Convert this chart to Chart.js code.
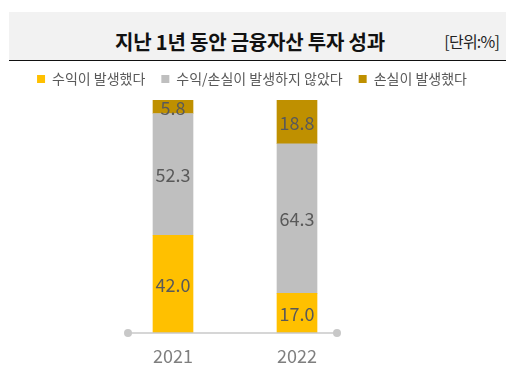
<!DOCTYPE html>
<html>
<head>
<meta charset="utf-8">
<script src="https://cdn.jsdelivr.net/npm/chart.js@4"></script>
<style>
  body { margin: 0; background: #fff; }
  #wrap { position: relative; width: 520px; height: 368px; }
  #band {
    position: absolute; left: 9px; top: 12px; width: 497px; height: 48px;
    background: #f2f2f2; border-bottom: 1.5px solid #111;
  }
  #title {
    position: absolute; left: 0; width: 482px; top: 15px; text-align: center;
    font: bold 20px "Noto Sans CJK KR", sans-serif; color: #111; letter-spacing: -0.2px;
  }
  #unit {
    position: absolute; right: 7px; top: 17px;
    font: 16px "Noto Sans CJK KR", sans-serif; color: #222; letter-spacing: -0.8px;
  }
  canvas { position: absolute; left: 0; top: 0; }
</style>
</head>
<body>
<div id="wrap">
  <div id="band">
    <div id="title">지난 1년 동안 금융자산 투자 성과</div>
    <div id="unit">[단위:%]</div>
  </div>
  <canvas id="chart" width="520" height="368"></canvas>
</div>
<script>
// Data
const years = ["2021", "2022"];
const seriesNames = ["수익이 발생했다", "수익/손실이 발생하지 않았다", "손실이 발생했다"];
const profitValues = [42.0, 17.0];
const neutralValues = [52.3, 64.3];
const lossValues = [5.8, 18.8];
const seriesColors = ["#FFC000", "#BFBFBF", "#BF9000"];

const FONT = '"Noto Sans CJK KR", sans-serif';

// Value labels in the middle of each segment
const segmentLabels = {
  id: "segmentLabels",
  afterDatasetsDraw(chart) {
    const ctx = chart.ctx;
    ctx.save();
    ctx.font = "18px " + FONT;
    ctx.fillStyle = "#595959";
    ctx.textAlign = "center";
    ctx.textBaseline = "middle";
    chart.data.datasets.forEach((ds, i) => {
      chart.getDatasetMeta(i).data.forEach((bar, j) => {
        const y = (bar.y + bar.base) / 2;
        ctx.fillText(ds.data[j].toFixed(1), bar.x, y + 1);
      });
    });
    ctx.restore();
  }
};

// Baseline with round end caps
const baseLine = {
  id: "baseLine",
  afterDatasetsDraw(chart) {
    const ctx = chart.ctx;
    const xs = chart.scales.x;
    const y = chart.chartArea.bottom;
    const x0 = xs.getPixelForValue(0) - 45;
    const x1 = xs.getPixelForValue(years.length - 1) + 40;
    ctx.save();
    ctx.strokeStyle = "#c8c8c8";
    ctx.fillStyle = "#c8c8c8";
    ctx.lineWidth = 1.5;
    ctx.beginPath();
    ctx.moveTo(x0, y);
    ctx.lineTo(x1, y);
    ctx.stroke();
    [x0, x1].forEach(x => {
      ctx.beginPath();
      ctx.arc(x, y, 4, 0, Math.PI * 2);
      ctx.fill();
    });
    ctx.restore();
  }
};

// Fixed legend block height so the plot starts where the reference does
const legendHeight = {
  id: "legendHeight",
  beforeInit(chart) {
    const origFit = chart.legend.fit;
    chart.legend.fit = function () {
      origFit.bind(chart.legend)();
      this.height = 44;
    };
  }
};

const hiddenSide = width => ({
  display: true,
  ticks: { display: false },
  grid: { display: false, drawTicks: false },
  border: { display: false },
  afterFit(scale) { scale.width = width; }
});

new Chart(document.getElementById("chart"), {
  type: "bar",
  data: {
    labels: years,
    datasets: [profitValues, neutralValues, lossValues].map((vals, i) => ({
      label: seriesNames[i],
      data: vals,
      backgroundColor: seriesColors[i],
      borderWidth: 0,
      barThickness: 40
    }))
  },
  options: {
    responsive: false,
    animation: false,
    layout: { padding: { top: 56, bottom: 0, left: 0, right: 16 } },
    plugins: {
      legend: {
        position: "top",
        labels: {
          boxWidth: 8,
          boxHeight: 8,
          padding: 16,
          color: "#595959",
          font: { size: 14, family: FONT }
        }
      },
      tooltip: { enabled: false }
    },
    scales: {
      x: {
        stacked: true,
        grid: { display: false, drawTicks: false },
        border: { display: false },
        ticks: { color: "#7f7f7f", padding: 12, font: { size: 18, family: FONT } },
        afterFit(scale) { scale.height = 35; }
      },
      y: Object.assign({ stacked: true, min: 0, max: 100.1, position: "left" }, hiddenSide(111)),
      y2: Object.assign({ min: 0, max: 100.1, position: "right" }, hiddenSide(145))
    }
  },
  plugins: [segmentLabels, baseLine, legendHeight]
});
</script>
</body>
</html>
